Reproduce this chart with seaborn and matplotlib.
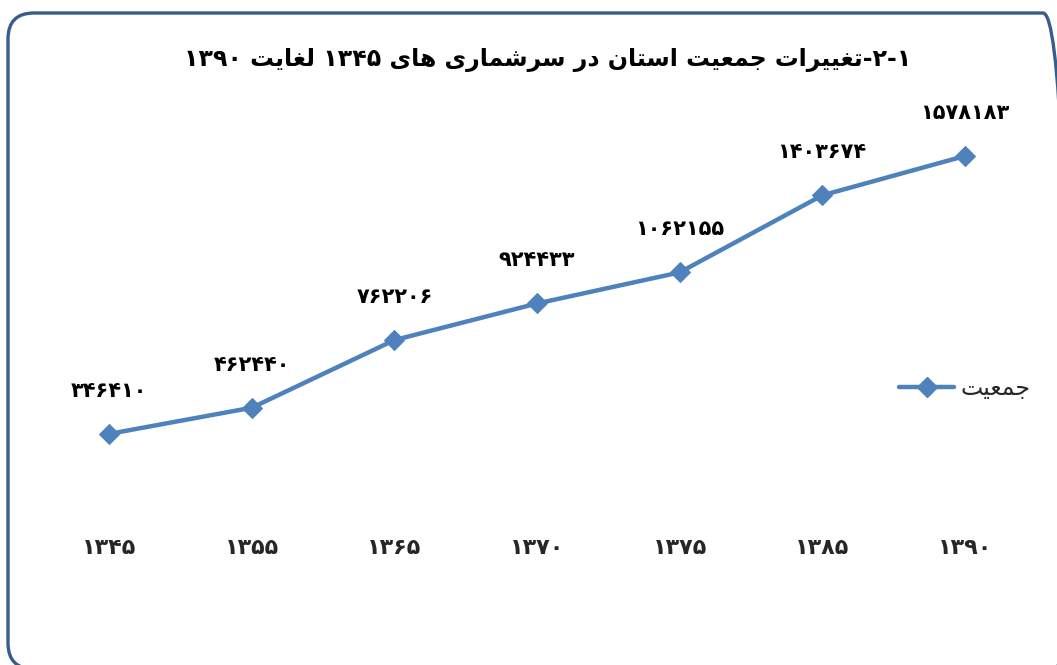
import numpy as np
import pandas as pd
import matplotlib
matplotlib.use("Agg")
import matplotlib.pyplot as plt
import seaborn as sns
from matplotlib.patches import FancyBboxPatch
from matplotlib.lines import Line2D
from matplotlib.transforms import IdentityTransform

# ---------------- data ----------------
years = ["1345", "1355", "1365", "1370", "1375", "1385", "1390"]
population = [346410, 462440, 762206, 924433, 1062155, 1403674, 1578183]
series_name = "جمعیت"
title_words = ["۱-۲-تغییرات", "جمعیت", "استان", "در", "سرشماری", "های", "۱۳۴۵", "لغایت", "۱۳۹۰"]

# ---------------- minimal Arabic/Persian shaping ----------------
FORMS = {  # iso, final, initial, medial
    "ا": ("\uFE8D", "\uFE8E", None, None),
    "د": ("\uFEA9", "\uFEAA", None, None),
    "ر": ("\uFEAD", "\uFEAE", None, None),
    "ب": ("\uFE8F", "\uFE90", "\uFE91", "\uFE92"),
    "ت": ("\uFE95", "\uFE96", "\uFE97", "\uFE98"),
    "ج": ("\uFE9D", "\uFE9E", "\uFE9F", "\uFEA0"),
    "س": ("\uFEB1", "\uFEB2", "\uFEB3", "\uFEB4"),
    "ش": ("\uFEB5", "\uFEB6", "\uFEB7", "\uFEB8"),
    "ع": ("\uFEC9", "\uFECA", "\uFECB", "\uFECC"),
    "غ": ("\uFECD", "\uFECE", "\uFECF", "\uFED0"),
    "ل": ("\uFEDD", "\uFEDE", "\uFEDF", "\uFEE0"),
    "م": ("\uFEE1", "\uFEE2", "\uFEE3", "\uFEE4"),
    "ن": ("\uFEE5", "\uFEE6", "\uFEE7", "\uFEE8"),
    "ه": ("\uFEE9", "\uFEEA", "\uFEEB", "\uFEEC"),
    "ی": ("\uFEEF", "\uFEF0", "\uFEF3", "\uFEF4"),
}
FA_DIGITS = "۰۱۲۳۴۵۶۷۸۹"


def shape_word(w):
    chars = list(w)
    out = []
    for i, c in enumerate(chars):
        if c not in FORMS:
            out.append(c)
            continue
        iso, fin, ini, med = FORMS[c]
        prev = chars[i - 1] if i > 0 else None
        nxt = chars[i + 1] if i + 1 < len(chars) else None
        join_prev = prev in FORMS and FORMS[prev][2] is not None
        join_next = nxt in FORMS and ini is not None
        if join_prev and join_next:
            out.append(med)
        elif join_prev:
            out.append(fin)
        elif join_next:
            out.append(ini)
        else:
            out.append(iso)
    return out


def visual(text):
    """Small RTL visual ordering: letters reversed, digit runs kept left-to-right."""
    shaped = shape_word(text)
    runs = []
    for ch in shaped:
        is_digit = ch in FA_DIGITS
        if runs and runs[-1][0] == is_digit:
            runs[-1][1].append(ch)
        else:
            runs.append([is_digit, [ch]])
    res = []
    for is_digit, chs in reversed(runs):
        res.append("".join(chs) if is_digit else "".join(reversed(chs)))
    return "".join(res)


def rtl_sentence(words):
    return " ".join(visual(w) for w in reversed(words))


def fa_digits(s):
    return "".join(FA_DIGITS[int(c)] if c.isdigit() else c for c in str(s))


# ---------------- plot ----------------
sns.set_theme(style="white")
plt.rcParams["font.family"] = ["DejaVu Sans"]

W, H = 1057, 665
fig = plt.figure(figsize=(W / 100, H / 100), dpi=100)

# rounded frame in pixel coordinates (partly outside the figure, like the reference)
frame = FancyBboxPatch((8, H - 669), 1069 - 8, 669 - 13,
                       boxstyle="round,pad=0,rounding_size=26",
                       transform=IdentityTransform(), fill=False,
                       edgecolor="#385D8A", linewidth=2.4)
fig.patches.append(frame)

ax = fig.add_axes([38 / W, (H - 512) / H, (1036 - 38) / W, (512 - 106) / H])
df = pd.DataFrame({"x": np.arange(len(years)), "y": population})
line_color = "#4F81BD"
sns.lineplot(data=df, x="x", y="y", ax=ax, color=line_color, linewidth=3.2,
             marker="D", markersize=10, markeredgecolor=line_color,
             markerfacecolor=line_color, legend=False)

ax.set_xlim(-0.5, len(years) - 0.5)
ax.set_ylim(0, 1800000)
ax.set_xticks(np.arange(len(years)))
ax.set_xticklabels([fa_digits(y) for y in years], fontsize=16, fontweight="bold")
ax.tick_params(axis="x", length=0, pad=19)
ax.set_yticks([])
ax.set_xlabel("")
ax.set_ylabel("")
for s in ax.spines.values():
    s.set_visible(False)
ax.patch.set_alpha(0)

for xi, v in zip(df["x"], population):
    ax.annotate(fa_digits(v), (xi, v), xytext=(0, 31), textcoords="offset points",
                ha="center", va="center", fontsize=15, fontweight="bold", color="black")

fig.text(548 / W, 1 - 60 / H, rtl_sentence(title_words), ha="center", va="center",
         fontsize=17, fontweight="bold", color="black")

handle = Line2D([], [], color=line_color, linewidth=3.2, marker="D", markersize=10)
fig.legend([handle], [visual(series_name)], loc="center left",
           bbox_to_anchor=(899 / W, 1 - 388 / H), frameon=False, fontsize=17,
           handlelength=2.35, handletextpad=0.25, borderpad=0, borderaxespad=0)

fig.savefig("out.png", dpi=100, facecolor="white")
